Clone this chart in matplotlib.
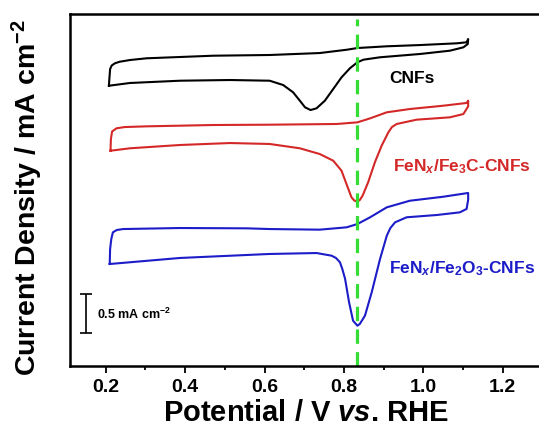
import numpy as np
import matplotlib
matplotlib.use("Agg")
import matplotlib.pyplot as plt
from matplotlib.ticker import MultipleLocator

plt.rcParams['font.family'] = ['Liberation Sans', 'DejaVu Sans']
plt.rcParams['font.weight'] = 'bold'
plt.rcParams['mathtext.fontset'] = 'custom'
plt.rcParams['mathtext.rm'] = 'Liberation Sans:bold'
plt.rcParams['mathtext.it'] = 'Liberation Sans:bold:italic'
plt.rcParams['mathtext.bf'] = 'Liberation Sans:bold'

# CV loops (potential in V vs RHE, current density in mA cm-2, curves offset)
cnf_E = [0.208, 0.209, 0.211, 0.215, 0.223, 0.235, 0.261, 0.303, 0.471, 0.613,
         0.739, 0.807, 0.834, 0.908, 0.992, 1.084, 1.109, 1.113,
         1.112, 1.101, 1.067, 0.992, 0.891, 0.849, 0.834, 0.815, 0.794, 0.773,
         0.752, 0.731, 0.716, 0.702, 0.689, 0.672, 0.647, 0.613, 0.513, 0.387,
         0.261, 0.208]
cnf_j = [3.575, 3.654, 3.788, 3.833, 3.861, 3.881, 3.903, 3.925, 3.958, 3.967,
         3.992, 4.034, 4.056, 4.078, 4.094, 4.116, 4.129, 4.171,
         4.107, 4.065, 4.022, 3.980, 3.938, 3.907, 3.874, 3.797, 3.682, 3.533,
         3.384, 3.287, 3.265, 3.300, 3.384, 3.491, 3.584, 3.639, 3.648, 3.639,
         3.610, 3.575]

fe3c_E = [0.212, 0.213, 0.216, 0.227, 0.248, 0.303, 0.471, 0.613, 0.782, 0.834,
          0.866, 0.908, 0.966, 1.050, 1.109, 1.113,
          1.113, 1.101, 1.067, 0.983, 0.933, 0.921, 0.912, 0.895, 0.878, 0.861,
          0.847, 0.840, 0.834, 0.826, 0.819, 0.808, 0.794, 0.773, 0.739, 0.689,
          0.613, 0.513, 0.387, 0.261, 0.212]
fe3c_j = [2.746, 2.895, 2.991, 3.032, 3.048, 3.057, 3.074, 3.078, 3.087, 3.108,
          3.159, 3.236, 3.278, 3.320, 3.355, 3.384,
          3.312, 3.214, 3.172, 3.142, 3.087, 3.048, 2.981, 2.810, 2.598, 2.343,
          2.172, 2.117, 2.096, 2.111, 2.152, 2.300, 2.491, 2.619, 2.704, 2.777,
          2.832, 2.844, 2.819, 2.777, 2.746]

fe2o3_E = [0.210, 0.211, 0.214, 0.218, 0.228, 0.244, 0.387, 0.555, 0.613, 0.739,
           0.807, 0.834, 0.866, 0.908, 0.966, 1.050, 1.113,
           1.113, 1.109, 1.092, 1.034, 0.958, 0.929, 0.917, 0.908, 0.891, 0.870,
           0.853, 0.840, 0.834, 0.823, 0.813, 0.803, 0.796, 0.790, 0.780, 0.769,
           0.731, 0.613, 0.387, 0.210]
fe2o3_j = [1.301, 1.492, 1.620, 1.705, 1.735, 1.747, 1.760, 1.756, 1.747, 1.739,
           1.769, 1.811, 1.897, 2.024, 2.108, 2.159, 2.207,
           2.121, 2.003, 1.960, 1.926, 1.897, 1.833, 1.760, 1.662, 1.365, 0.940,
           0.642, 0.536, 0.514, 0.578, 0.812, 1.110, 1.237, 1.323, 1.378, 1.407,
           1.441, 1.429, 1.378, 1.301]

labels = ['CNFs', 'FeN$_x$/Fe$_3$C-CNFs', 'FeN$_x$/Fe$_2$O$_3$-CNFs']
colors = ['black', '#d42828', '#1c1cc8']
label_pos = [(0.915, 3.68), (0.924, 2.555), (0.914, 1.259)]
peak_E = 0.833

fig = plt.figure(figsize=(5.39, 4.31), dpi=100)
ax = fig.add_axes([0.1299, 0.1485, 0.8764, 0.8167])

for E, j, c in zip([cnf_E, fe3c_E, fe2o3_E], [cnf_j, fe3c_j, fe2o3_j], colors):
    ax.plot(E, j, color=c, lw=1.5, solid_joinstyle='round')

ax.axvline(peak_E, ymin=0, ymax=0.985, color='#33dd33', lw=2.3, dashes=(4.5, 2.6))

for lab, (x, y), c in zip(labels, label_pos, colors):
    ax.text(x, y, lab, color=c, fontsize=12.5, fontweight='bold', ha='left', va='center')

# scale bar
ax.errorbar([0.151], [0.67], yerr=[0.25], color='black', lw=1.2, capsize=4.3, capthick=1.2)
ax.text(0.177, 0.676, '0.5 mA cm$^{-2}$', fontsize=9, fontweight='bold', ha='left', va='center')

ax.set_xlim(0.11, 1.30)
ax.set_ylim(0, 4.49)
ax.xaxis.set_minor_locator(MultipleLocator(0.1))
ax.set_xticks([0.2, 0.4, 0.6, 0.8, 1.0, 1.2])
ax.set_xticklabels(['0.2', '0.4', '0.6', '0.8', '1.0', '1.2'])
ax.tick_params(axis='x', which='major', length=5, width=1.3, labelsize=14, direction='out')
ax.tick_params(axis='x', which='minor', length=3, width=1.3, direction='out')
ax.set_yticks([])
for s in ax.spines.values():
    s.set_linewidth(1.8)

ax.set_xlabel('Potential / V $\\mathit{vs}$. RHE', fontsize=21, fontweight='bold')
ax.xaxis.set_label_coords(0.5, -0.09)
ax.set_ylabel('Current Density / mA cm$^{-2}$', fontsize=20.5, fontweight='bold')
ax.yaxis.set_label_coords(-0.052, 0.48)

fig.savefig('out.png', dpi=100)
